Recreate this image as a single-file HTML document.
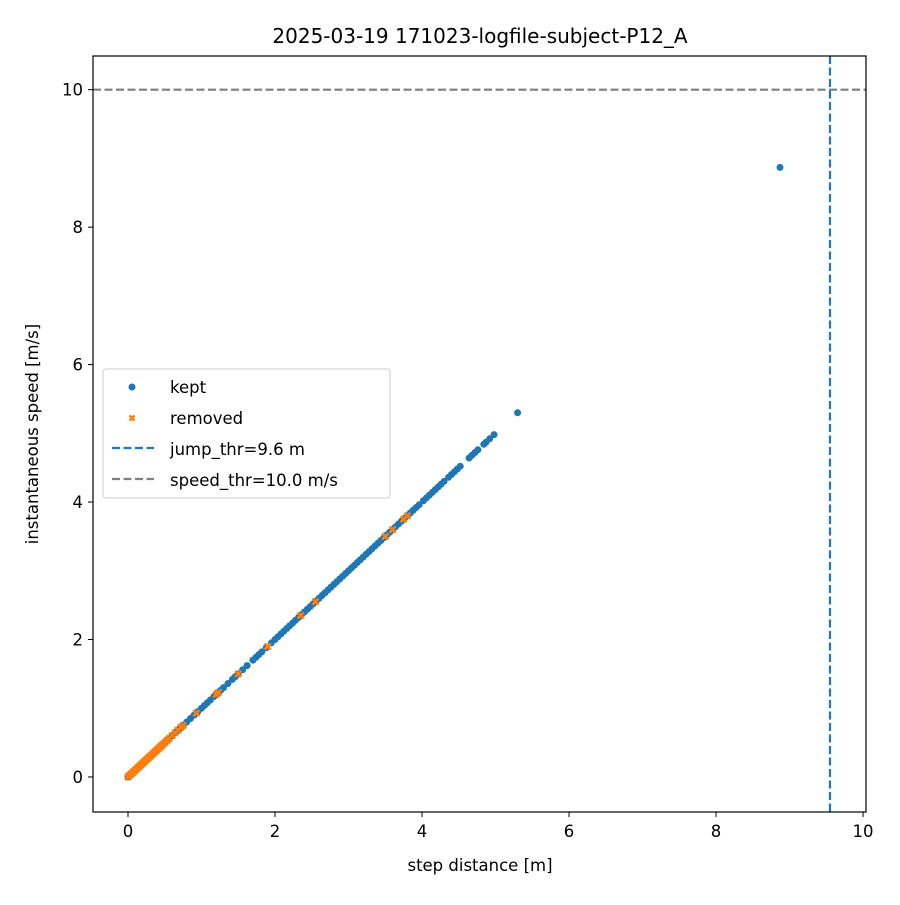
<!DOCTYPE html>
<html><head><meta charset="utf-8"><style>
body{margin:0;background:#fff;}
svg text{font-family:"DejaVu Sans","Liberation Sans",sans-serif;}
</style></head><body>
<svg id="chart" width="900" height="900" xmlns="http://www.w3.org/2000/svg">
<rect x="0" y="0" width="900" height="900" fill="#fff"/>
<g id="marks"></g>
<g id="axes"></g>
</svg>
<script>
const keptDistance = [0,0.02,0.04,0.06,0.08,0.1,0.13,0.16,0.2,0.25,0.3,0.35,0.4,0.45,0.5,0.55,0.6,0.65,0.7,0.75,0.8,0.85,0.9,0.95,1.0,1.04,1.08,1.12,1.17,1.22,1.26,1.3,1.36,1.42,1.46,1.5,1.56,1.62,1.7,1.74,1.78,1.82,1.88,1.95,2.0,2.04,2.08,2.12,2.16,2.2,2.24,2.28,2.32,2.36,2.4,2.44,2.48,2.52,2.56,2.6,2.64,2.68,2.72,2.76,2.8,2.84,2.88,2.92,2.96,3.0,3.04,3.08,3.12,3.16,3.2,3.24,3.28,3.32,3.36,3.4,3.44,3.48,3.52,3.56,3.6,3.64,3.68,3.72,3.76,3.8,3.84,3.88,3.92,3.96,4.02,4.06,4.1,4.14,4.18,4.22,4.26,4.3,4.36,4.4,4.44,4.48,4.52,4.64,4.68,4.72,4.76,4.84,4.87,4.92,4.98,5.3,8.87];
const keptSpeed = [0,0.02,0.04,0.06,0.08,0.1,0.13,0.16,0.2,0.25,0.3,0.35,0.4,0.45,0.5,0.55,0.6,0.65,0.7,0.75,0.8,0.85,0.9,0.95,1.0,1.04,1.08,1.12,1.17,1.22,1.26,1.3,1.36,1.42,1.46,1.5,1.56,1.62,1.7,1.74,1.78,1.82,1.88,1.95,2.0,2.04,2.08,2.12,2.16,2.2,2.24,2.28,2.32,2.36,2.4,2.44,2.48,2.52,2.56,2.6,2.64,2.68,2.72,2.76,2.8,2.84,2.88,2.92,2.96,3.0,3.04,3.08,3.12,3.16,3.2,3.24,3.28,3.32,3.36,3.4,3.44,3.48,3.52,3.56,3.6,3.64,3.68,3.72,3.76,3.8,3.84,3.88,3.92,3.96,4.02,4.06,4.1,4.14,4.18,4.22,4.26,4.3,4.36,4.4,4.44,4.48,4.52,4.64,4.68,4.72,4.76,4.84,4.87,4.92,4.98,5.3,8.87];
const removedDistance = [0,0.01,0.03,0.05,0.07,0.09,0.11,0.13,0.15,0.17,0.19,0.21,0.23,0.25,0.27,0.29,0.31,0.33,0.35,0.37,0.39,0.41,0.43,0.45,0.47,0.5,0.53,0.56,0.6,0.64,0.68,0.72,0.75,0.93,1.2,1.23,1.5,1.9,2.35,2.55,3.5,3.6,3.75,3.8];
const removedSpeed = [0,0.01,0.03,0.05,0.07,0.09,0.11,0.13,0.15,0.17,0.19,0.21,0.23,0.25,0.27,0.29,0.31,0.33,0.35,0.37,0.39,0.41,0.43,0.45,0.47,0.5,0.53,0.56,0.6,0.64,0.68,0.72,0.75,0.93,1.2,1.23,1.5,1.9,2.35,2.55,3.5,3.6,3.75,3.8];
const xTicks = [0,2,4,6,8,10];
const yTicks = [0,2,4,6,8,10];
const jumpThr = [9.55];
const speedThr = [10.0];

const NS="http://www.w3.org/2000/svg";
const L=93,R=866,T=56,B=812;
const xMin=-0.476,xMax=10.04,yMin=-0.51,yMax=10.49;
function sx(v){return L+(v-xMin)/(xMax-xMin)*(R-L);}
function sy(v){return B-(v-yMin)/(yMax-yMin)*(B-T);}
function mk(tag,attrs,parent){const e=document.createElementNS(NS,tag);for(const k in attrs)e.setAttribute(k,attrs[k]);parent.appendChild(e);return e;}
const marks=document.getElementById('marks'),axes=document.getElementById('axes');

keptDistance.forEach((d,i)=>{
  const c=mk('circle',{cx:sx(d),cy:sy(keptSpeed[i]),r:3.5,fill:'#1f77b4'},marks);
  
  
});
removedDistance.forEach((d,i)=>{
  const x=sx(d),y=sy(removedSpeed[i]);
  const p=mk('path',{d:`M${x-3} ${y-3}L${x+3} ${y+3}M${x-3} ${y+3}L${x+3} ${y-3}`,stroke:'#ff7f0e','stroke-width':2.6},marks);
  
  
});
jumpThr.forEach(v=>{
  const l=mk('line',{x1:sx(v),x2:sx(v),y1:T,y2:B,stroke:'#1f77b4','stroke-width':2.2,'stroke-dasharray':'8,3.5'},marks);
  
  
});
speedThr.forEach(v=>{
  const l=mk('line',{x1:L,x2:R,y1:sy(v),y2:sy(v),stroke:'#7f7f7f','stroke-width':2.2,'stroke-dasharray':'8,3.5'},marks);
  
  
});
const frame=mk('rect',{x:L,y:T,width:R-L,height:B-T,fill:'none',stroke:'#000','stroke-width':1.2},axes);


xTicks.forEach(v=>{
  mk('line',{x1:sx(v),x2:sx(v),y1:B,y2:B+5,stroke:'#000'},axes);
  const t=mk('text',{x:sx(v),y:B+25,'text-anchor':'middle','font-size':'16.5'},axes);
  t.textContent=v;
  
  
});
yTicks.forEach(v=>{
  mk('line',{x1:L-5,x2:L,y1:sy(v),y2:sy(v),stroke:'#000'},axes);
  const t=mk('text',{x:L-10,y:sy(v)+6,'text-anchor':'end','font-size':'16.5'},axes);
  t.textContent=v;
  
  
});
</script>
<svg width="900" height="900" style="position:absolute;left:0;top:0" xmlns="http://www.w3.org/2000/svg">
<text x="480" y="43" text-anchor="middle" font-size="20">2025-03-19 171023-logfile-subject-P12_A</text>
<text x="480" y="871" text-anchor="middle" font-size="16.5">step distance [m]</text>
<text x="38" y="434" text-anchor="middle" font-size="16.5" transform="rotate(-90 38 434)">instantaneous speed [m/s]</text>
<g>
<rect x="103" y="369" width="287" height="129" rx="3" fill="#fff" fill-opacity="0.8" stroke="#ccc"/>
<g><circle cx="132" cy="387" r="3.5" fill="#1f77b4"/><text x="170" y="393" font-size="16.5">kept</text></g>
<g><path d="M129.5 415.5L134.5 420.5M129.5 420.5L134.5 415.5" stroke="#ff7f0e" stroke-width="2.4"/><text x="170" y="424" font-size="16.5">removed</text></g>
<g><line x1="112" x2="154" y1="448" y2="448" stroke="#1f77b4" stroke-width="2.2" stroke-dasharray="8,3.5"/><text x="170" y="455" font-size="16.5">jump_thr=9.6 m</text></g>
<g><line x1="112" x2="154" y1="479" y2="479" stroke="#7f7f7f" stroke-width="2.2" stroke-dasharray="8,3.5"/><text x="170" y="486" font-size="16.5">speed_thr=10.0 m/s</text></g>
</g>
</svg>
</body></html>
